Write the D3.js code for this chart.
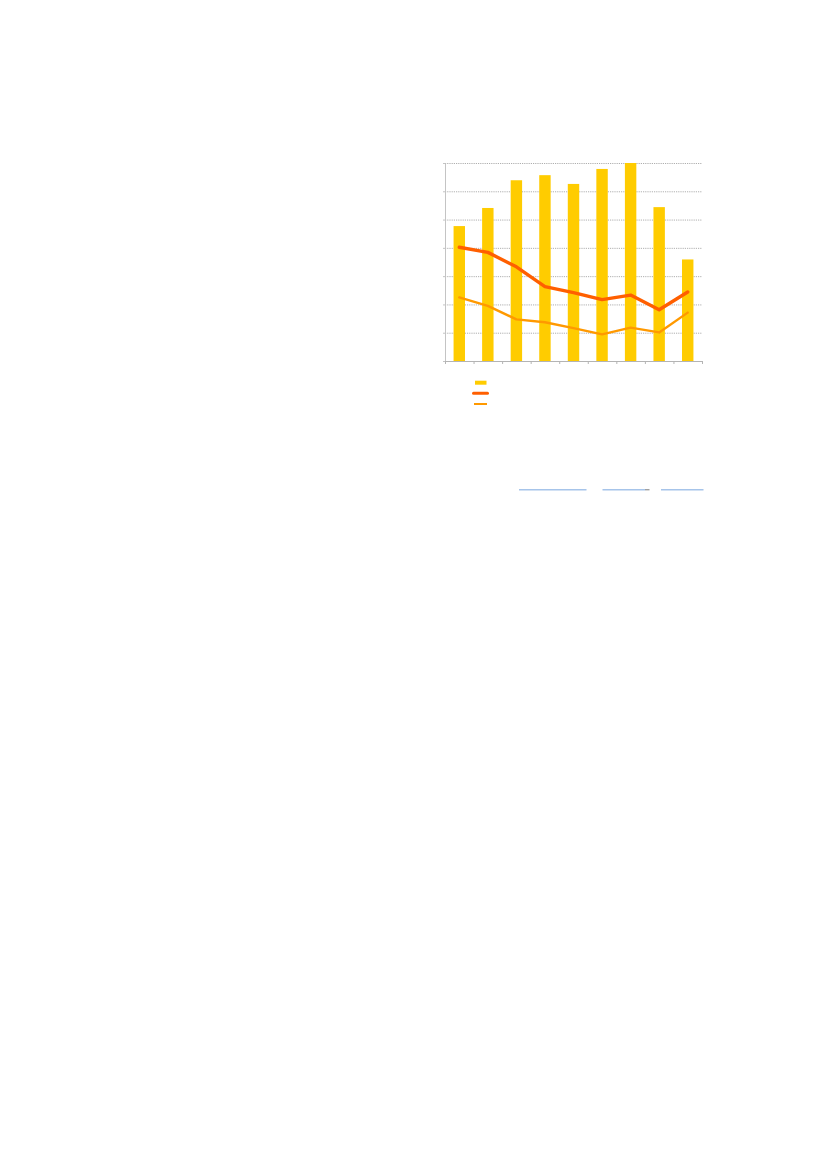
<!DOCTYPE html>
<html>
<head>
<meta charset="utf-8">
<script src="https://cdn.jsdelivr.net/npm/d3@7"></script>
<style>
  body { margin: 0; background: #fff; }
  svg { display: block; }
</style>
</head>
<body>
<svg id="chart" width="827" height="1169"></svg>
<script>
// values (axis labels are not visible, units are grid steps x10)
var categories = ["1", "2", "3", "4", "5", "6", "7", "8", "9"];
var barValues = [47.7, 54.1, 63.9, 65.7, 62.6, 67.9, 70.0, 54.4, 35.9];
var lineA = [40.2, 38.4, 33.3, 26.3, 24.2, 21.7, 23.3, 18.1, 24.4];
var lineB = [22.5, 19.5, 14.7, 13.7, 11.6, 9.4, 11.8, 10.1, 17.1];
var yTicks = [0, 10, 20, 30, 40, 50, 60, 70];

var svg = d3.select("#chart");

// plot area edges (window.top is read-only, so no plain "top" here)
var plotLeft = 445, plotRight = 702, plotTop = 163, plotBottom = 361;

var x = d3.scaleBand()
	.domain(categories)
	.range([plotLeft, plotRight])
	.paddingInner(0.6)
	.paddingOuter(0.3);

// edges of the category slots, for the little tick marks on the x axis
var xEdge = d3.scaleLinear()
	.domain([0, categories.length])
	.range([plotLeft, plotRight]);

var y = d3.scaleLinear()
	.domain([0, 70])
	.range([plotBottom, plotTop]);

// gridlines
var grid = svg.append("g")
	.attr("transform", "translate(" + plotLeft + ",0)")
	.call(d3.axisLeft(y).tickValues(yTicks.slice(1)).tickSize(-(plotRight - plotLeft)).tickFormat(""));
grid.select(".domain").remove();
grid.selectAll("line")
	.attr("stroke", "#9a9a9a")
	.attr("stroke-width", 0.8)
	.attr("stroke-dasharray", "1.2,1");

// bars
svg.append("g").selectAll("rect")
	.data(barValues)
	.join("rect")
	.attr("x", function (d, i) { return x(categories[i]); })
	.attr("y", function (d) { return y(d); })
	.attr("width", x.bandwidth())
	.attr("height", function (d) { return y(0) - y(d); })
	.attr("fill", "#ffcc00");

// y axis
var yAxis = svg.append("g")
	.attr("transform", "translate(" + plotLeft + ",0)")
	.call(d3.axisLeft(y).tickValues(yTicks).tickSize(2).tickFormat(""));
yAxis.selectAll("path, line").attr("stroke", "#c4c4c4").attr("stroke-width", 1);

// x axis
var xAxis = svg.append("g")
	.attr("transform", "translate(0," + plotBottom + ")")
	.call(d3.axisBottom(xEdge).tickValues(d3.range(categories.length + 1)).tickSize(3).tickSizeOuter(0).tickFormat(""));
xAxis.selectAll("path, line").attr("stroke", "#b4b4b4").attr("stroke-width", 1);

// lines
var line = d3.line()
	.x(function (d, i) { return x(categories[i]) + x.bandwidth() / 2; })
	.y(function (d) { return y(d); });

svg.append("path")
	.datum(lineB)
	.attr("d", line)
	.attr("fill", "none")
	.attr("stroke", "#ff9900")
	.attr("stroke-width", 2.4)
	.attr("stroke-linejoin", "round")
	.attr("stroke-linecap", "round");

svg.append("path")
	.datum(lineA)
	.attr("d", line)
	.attr("fill", "none")
	.attr("stroke", "#ff5f00")
	.attr("stroke-width", 3.4)
	.attr("stroke-linejoin", "round")
	.attr("stroke-linecap", "round");

// legend swatches
var legend = svg.append("g").attr("transform", "translate(475,0)");
legend.append("rect")
	.attr("x", 0).attr("y", 380.7)
	.attr("width", 11.5).attr("height", 4)
	.attr("fill", "#ffcc00");
legend.append("line")
	.attr("x1", -1.5).attr("x2", 12.5).attr("y1", 393.3).attr("y2", 393.3)
	.attr("stroke", "#ff5f00").attr("stroke-width", 3).attr("stroke-linecap", "round");
legend.append("line")
	.attr("x1", -1).attr("x2", 12).attr("y1", 404).attr("y2", 404)
	.attr("stroke", "#ff9900").attr("stroke-width", 2);

// link underlines below the chart
var links = [[519, 586.5], [602.5, 645], [661, 703.5]];
svg.append("g").selectAll("line")
	.data(links)
	.join("line")
	.attr("x1", function (d) { return d[0]; })
	.attr("x2", function (d) { return d[1]; })
	.attr("y1", 489.7).attr("y2", 489.7)
	.attr("stroke", "#a6c4ea")
	.attr("stroke-width", 1.4);
svg.append("line")
	.attr("x1", 645).attr("x2", 649.5).attr("y1", 489.7).attr("y2", 489.7)
	.attr("stroke", "#a0a0a0").attr("stroke-width", 1.4);
</script>
</body>
</html>
